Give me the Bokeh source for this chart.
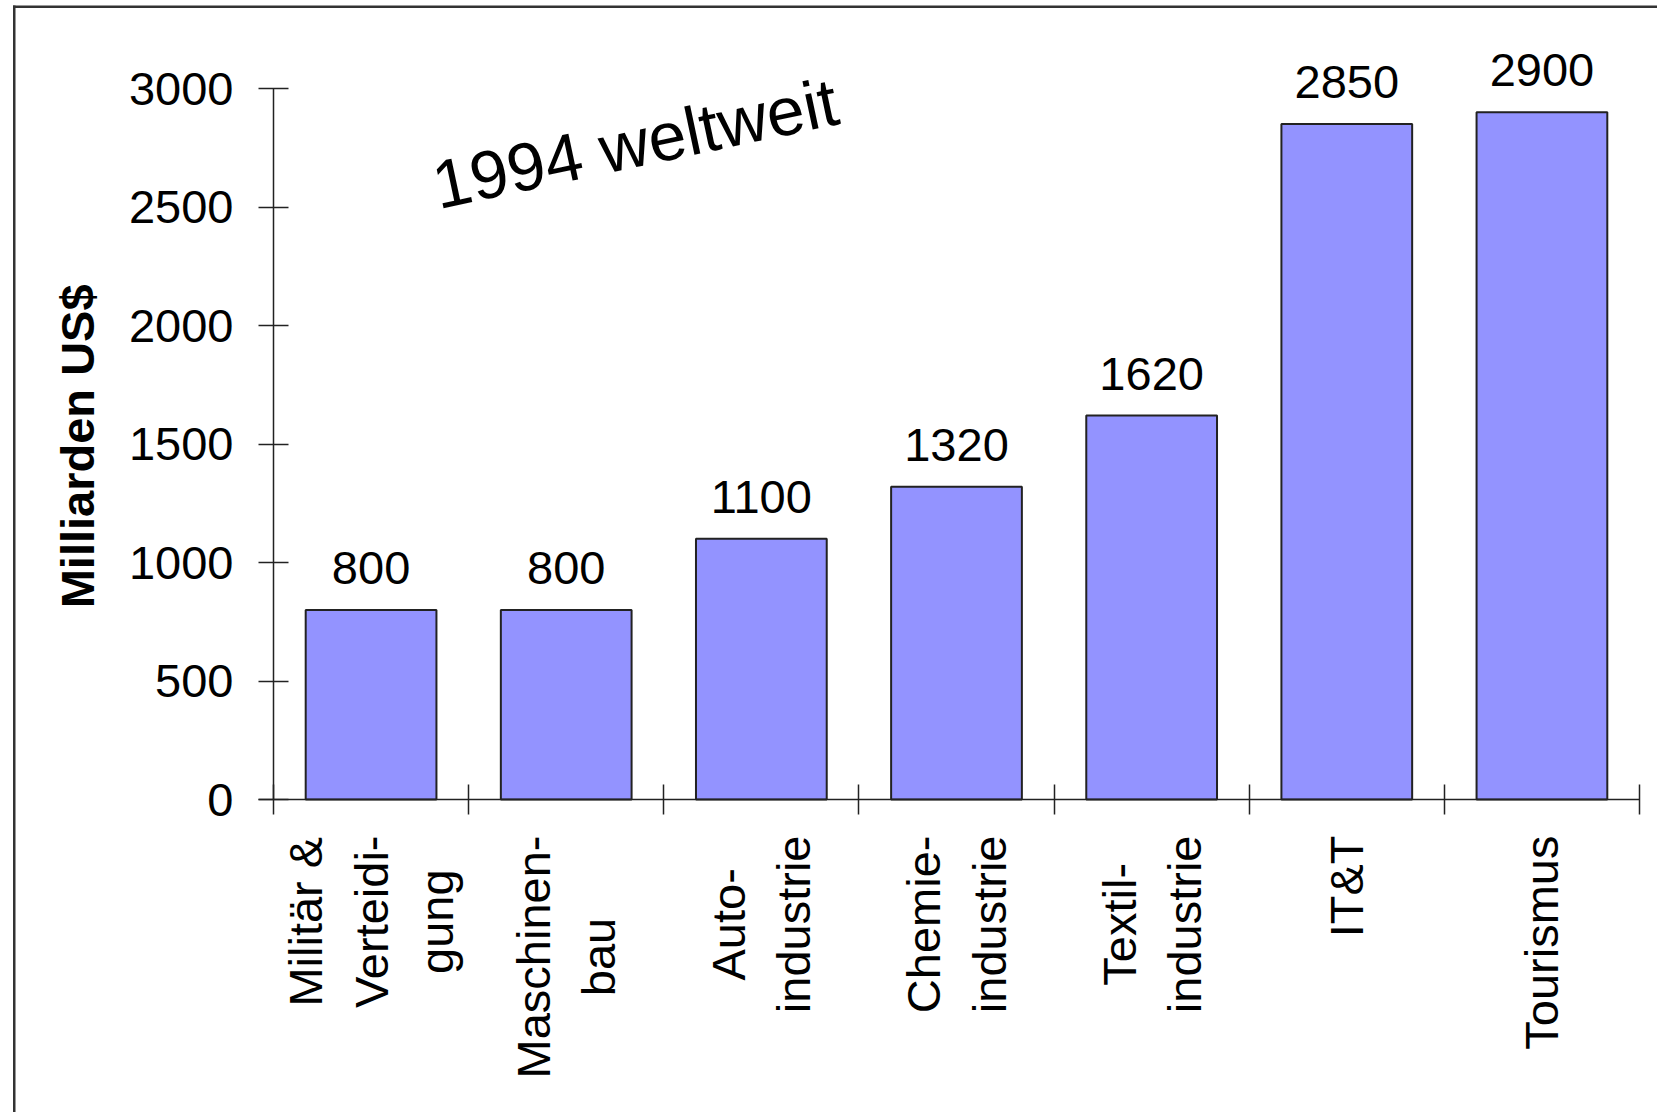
import numpy as np
from bokeh.plotting import figure
from bokeh.models import (Range1d, LinearAxis, FixedTicker, ColumnDataSource,
                          LabelSet, Label, BoxAnnotation)
from bokeh.core.properties import value
from bokeh.embed import file_html
from bokeh.resources import INLINE

# ---- data ----
categories = ["Militär &\nVerteidi-\ngung", "Maschinen-\nbau", "Auto-\nindustrie",
              "Chemie-\nindustrie", "Textil-\nindustrie", "IT&T", "Tourismus"]
values = [800, 800, 1100, 1320, 1620, 2850, 2900]
value_labels = [str(v) for v in values]
y_ticks = [0, 500, 1000, 1500, 2000, 2500, 3000]
y_axis_title = "Milliarden US$"
annotation_text = "1994 weltweit"

FONT = "Liberation Sans"
n = len(categories)
centers = list(np.arange(n) + 0.5)

# ---- layout constants (canvas pixels) ----
W, H = 1657, 1112
AX_X, AX_RIGHT = 273.0, 1639.0      # pixel of x=0 and x=n
AX_Y0, AX_Y3000 = 799.0, 88.0       # pixel of y=0 and y=3000
ux = (AX_RIGHT - AX_X) / n          # px per category
uy = (AX_Y0 - AX_Y3000) / 3000.0    # px per unit value

x_range = Range1d(-AX_X / ux, (W - AX_X) / ux)
y_range = Range1d((AX_Y0 - H) / uy, AX_Y0 / uy)

p = figure(width=W, height=H, x_range=x_range, y_range=y_range,
           output_backend="svg", toolbar_location=None,
           x_axis_type=None, y_axis_type=None, min_border=0)
p.outline_line_color = None
p.background_fill_color = "white"
p.border_fill_color = "white"

AX_COLOR = "#222222"

# y axis
yaxis = LinearAxis(ticker=FixedTicker(ticks=y_ticks, minor_ticks=[]),
                   fixed_location=0, bounds=(0, 3000))
yaxis.major_tick_in = 15
yaxis.major_tick_out = 15
yaxis.minor_tick_line_color = None
yaxis.major_label_standoff = 25
yaxis.major_label_text_font = FONT
yaxis.major_label_text_font_size = "47px"
yaxis.major_label_text_color = "black"
yaxis.axis_line_color = AX_COLOR
yaxis.major_tick_line_color = AX_COLOR
yaxis.axis_line_width = 1.5
yaxis.major_tick_line_width = 1.5
p.add_layout(yaxis, "left")

# x axis with ticks at category boundaries
bounds = list(range(n + 1))
xaxis = LinearAxis(ticker=FixedTicker(ticks=bounds, minor_ticks=[]),
                   fixed_location=0, bounds=(-15 / ux, n))
xaxis.major_label_overrides = {b: "" for b in bounds}
xaxis.major_tick_in = 15
xaxis.major_tick_out = 15
xaxis.minor_tick_line_color = None
xaxis.axis_line_color = AX_COLOR
xaxis.major_tick_line_color = AX_COLOR
xaxis.axis_line_width = 1.5
xaxis.major_tick_line_width = 1.5
p.add_layout(xaxis, "below")

src = ColumnDataSource(dict(x=centers, top=values, label=value_labels))
p.vbar(x="x", top="top", bottom=0, width=0.67, source=src,
       fill_color="#9393FF", line_color="#222222", line_width=2)

labels = LabelSet(x="x", y="top", text="label", source=src, y_offset=26,
                  text_align="center", text_baseline="alphabetic",
                  text_font=value(FONT), text_font_size=value("47px"),
                  text_color="black")
p.add_layout(labels)

for cx, cat in zip(centers, categories):
    p.add_layout(Label(x=cx, y=0, y_offset=-36, text=cat, angle=90,
                       angle_units="deg", text_align="center",
                       anchor="center_right", text_line_height=1.23,
                       text_font=FONT, text_font_size="47px",
                       text_color="black"))

# y axis title
p.add_layout(Label(x=(77 - AX_X) / ux, y=1490, text=y_axis_title, angle=90,
                   angle_units="deg", text_align="center",
                   text_baseline="alphabetic", text_font=FONT,
                   text_font_size="47px", text_font_style="bold",
                   text_color="black"))

p.add_layout(Label(x=0.82, y=2590, text=annotation_text, angle=12,
                   angle_units="deg", text_align="left",
                   text_baseline="alphabetic", text_font=FONT,
                   text_font_size="68px", text_color="black"))

# outer frame (only its left and top edges are visible in the reference)
BORDER = "#333333"
p.add_layout(BoxAnnotation(left=12.5, right=15.0, top=5.0, bottom=H + 20,
                           left_units="canvas", right_units="canvas",
                           top_units="canvas", bottom_units="canvas",
                           fill_color=BORDER, fill_alpha=1.0,
                           line_color=None))
p.add_layout(BoxAnnotation(left=12.5, right=W + 20, top=5.0, bottom=7.5,
                           left_units="canvas", right_units="canvas",
                           top_units="canvas", bottom_units="canvas",
                           fill_color=BORDER, fill_alpha=1.0,
                           line_color=None))

open("out.html", "w").write(file_html(p, INLINE))
